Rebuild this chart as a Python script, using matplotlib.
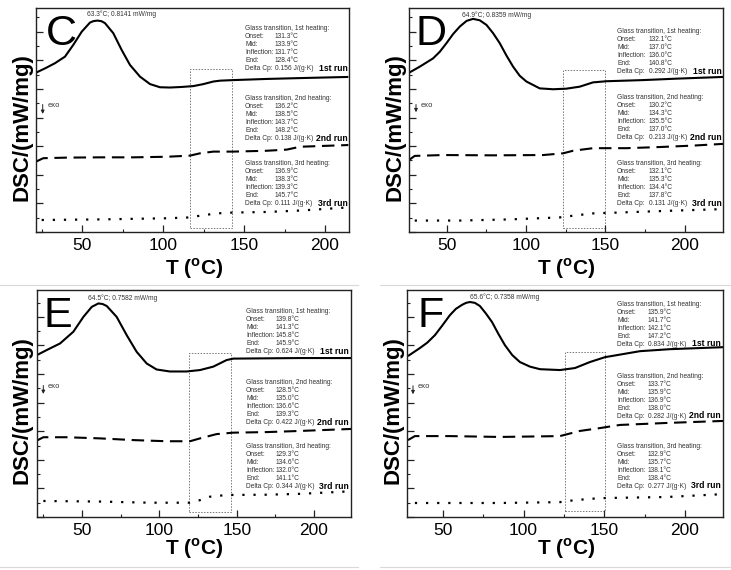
import matplotlib
matplotlib.use('Agg')
import matplotlib.pyplot as plt
from matplotlib.ticker import MultipleLocator
from matplotlib.patches import Rectangle, FancyArrowPatch
from matplotlib.lines import Line2D

plt.rcParams['font.family'] = ['Liberation Sans', 'DejaVu Sans']
plt.rcParams['mathtext.fontset'] = 'custom'
plt.rcParams['mathtext.rm'] = 'Liberation Sans'
plt.rcParams['mathtext.bf'] = 'Liberation Sans:bold'

W, H = 731, 570

# ---------------- data ----------------
panel_letters = ['C', 'D', 'E', 'F']

# Panel C
C_t1 = [21.6, 27.2, 33.3, 39.5, 44.6, 49.8, 54.9, 57.0, 59.5, 62.0, 64.2, 69.3, 74.5, 79.6, 85.8,
        92.0, 98.1, 104.3, 111.5, 118.7, 124.9, 131.1, 135.2, 143.4, 164.0, 184.6, 214.4]
C_y1 = [0.557, 0.572, 0.590, 0.613, 0.654, 0.700, 0.732, 0.737, 0.739, 0.737, 0.730, 0.695, 0.636,
        0.584, 0.543, 0.517, 0.506, 0.505, 0.507, 0.510, 0.517, 0.526, 0.529, 0.531, 0.535, 0.538, 0.542]
C_t2 = [21.6, 26.1, 40.6, 61.1, 81.7, 102.3, 116.7, 122.8, 131.1, 143.4, 164.0, 176.4, 184.6, 214.4]
C_y2 = [0.246, 0.258, 0.260, 0.261, 0.261, 0.263, 0.267, 0.275, 0.281, 0.281, 0.284, 0.288, 0.298, 0.304]
C_t3 = [25.1, 61.1, 102.3, 116.7, 122.8, 133.1, 143.4, 164.0, 184.6, 214.4]
C_y3 = [0.042, 0.044, 0.048, 0.051, 0.057, 0.065, 0.068, 0.070, 0.075, 0.086]

# Panel D
D_t1 = [26.3, 33.0, 41.4, 45.6, 49.8, 54.0, 58.2, 62.5, 66.6, 70.8, 75.0, 79.2, 83.4, 87.6, 91.8,
        96.0, 100.2, 108.6, 117.0, 125.4, 133.8, 142.2, 150.6, 173.7, 194.7, 224.1]
D_y1 = [0.557, 0.578, 0.607, 0.630, 0.660, 0.692, 0.718, 0.738, 0.745, 0.740, 0.724, 0.695, 0.660,
        0.617, 0.578, 0.546, 0.526, 0.502, 0.499, 0.501, 0.508, 0.523, 0.527, 0.531, 0.536, 0.542]
D_t2 = [26.3, 29.8, 47.7, 79.2, 110.7, 123.3, 129.6, 142.2, 163.2, 184.2, 205.2, 224.1]
D_y2 = [0.252, 0.266, 0.269, 0.268, 0.269, 0.275, 0.284, 0.293, 0.293, 0.297, 0.302, 0.308]
D_t3 = [29.8, 58.2, 89.7, 121.2, 129.6, 142.2, 163.2, 194.7, 224.1]
D_y3 = [0.040, 0.040, 0.044, 0.051, 0.057, 0.065, 0.069, 0.075, 0.080]

# Panel E
E_t1 = [20.7, 27.2, 35.8, 44.4, 50.9, 56.3, 60.6, 63.3, 66.0, 72.4, 78.9, 85.3, 91.8, 98.2, 106.8,
        117.6, 126.3, 134.9, 143.5, 147.8, 169.4, 191.0, 224.0]
E_y1 = [0.566, 0.584, 0.607, 0.648, 0.700, 0.735, 0.747, 0.745, 0.738, 0.700, 0.636, 0.578, 0.537,
        0.516, 0.509, 0.509, 0.514, 0.526, 0.549, 0.554, 0.555, 0.556, 0.556]
E_t2 = [20.7, 25.0, 40.1, 61.6, 83.2, 104.7, 119.8, 126.3, 137.0, 147.8, 169.4, 191.0, 224.0]
E_y2 = [0.267, 0.279, 0.279, 0.275, 0.269, 0.265, 0.265, 0.275, 0.290, 0.295, 0.297, 0.301, 0.308]
E_t3 = [25.0, 61.6, 93.9, 119.8, 126.3, 132.7, 143.5, 169.4, 191.0, 224.0]
E_y3 = [0.056, 0.054, 0.050, 0.050, 0.059, 0.071, 0.077, 0.078, 0.081, 0.090]

# Panel F
F_t1 = [28.3, 35.7, 40.3, 45.0, 49.6, 54.3, 58.0, 61.8, 64.3, 66.7, 69.8, 72.9, 76.6, 80.4, 84.4,
        88.4, 93.0, 97.7, 103.9, 110.1, 122.5, 131.8, 141.1, 150.4, 172.1, 190.7, 223.6]
F_y1 = [0.563, 0.591, 0.610, 0.636, 0.670, 0.706, 0.728, 0.742, 0.749, 0.752, 0.749, 0.738, 0.712,
        0.682, 0.640, 0.601, 0.566, 0.542, 0.526, 0.517, 0.514, 0.521, 0.542, 0.559, 0.580, 0.587, 0.594]
F_t2 = [28.3, 32.6, 54.3, 85.3, 122.5, 134.9, 147.3, 159.7, 188.9, 223.6]
F_y2 = [0.269, 0.283, 0.283, 0.280, 0.283, 0.301, 0.311, 0.322, 0.329, 0.336]
F_t3 = [32.6, 85.3, 122.5, 131.8, 147.3, 188.9, 223.6]
F_y3 = [0.049, 0.049, 0.052, 0.059, 0.066, 0.070, 0.080]

runs_T = {'C': [C_t1, C_t2, C_t3], 'D': [D_t1, D_t2, D_t3],
          'E': [E_t1, E_t2, E_t3], 'F': [F_t1, F_t2, F_t3]}
runs_Y = {'C': [C_y1, C_y2, C_y3], 'D': [D_y1, D_y2, D_y3],
          'E': [E_y1, E_y2, E_y3], 'F': [F_y1, F_y2, F_y3]}

# dashed boxes (T range, DSC range)
box_T = {'C': (116.7, 142.4), 'D': (123.3, 149.6), 'E': (119.3, 146.2), 'F': (125.6, 150.4)}
box_Y = {'C': (0.015, 0.569), 'D': (0.015, 0.566), 'E': (0.019, 0.574), 'F': (0.021, 0.577)}

peak_labels = {'C': '63.3\u00b0C; 0.8141 mW/mg', 'D': '64.9\u00b0C; 0.8359 mW/mg',
               'E': '64.5\u00b0C; 0.7582 mW/mg', 'F': '65.6\u00b0C; 0.7358 mW/mg'}

# onset, mid, inflection, end, delta Cp for 1st/2nd/3rd heating
gt_values = {
    'C': [['131.3', '133.9', '131.7', '128.4', '0.156'],
          ['136.2', '138.5', '143.7', '148.2', '0.138'],
          ['136.9', '138.3', '139.3', '145.7', '0.111']],
    'D': [['132.1', '137.0', '136.0', '140.8', '0.292'],
          ['130.2', '134.3', '135.5', '137.0', '0.213'],
          ['132.1', '135.3', '134.4', '137.8', '0.131']],
    'E': [['139.8', '141.3', '145.8', '145.9', '0.624'],
          ['128.5', '135.0', '136.6', '139.3', '0.422'],
          ['129.3', '134.6', '132.0', '141.1', '0.344']],
    'F': [['135.9', '141.7', '142.1', '147.2', '0.834'],
          ['133.7', '135.9', '136.9', '138.0', '0.282'],
          ['132.9', '135.7', '138.1', '138.4', '0.277']],
}
gt_names = ['Onset:', 'Mid:', 'Inflection:', 'End:', 'Delta Cp:']
heat_names = ['1st', '2nd', '3rd']
run_names = ['1st run', '2nd run', '3rd run']
x_ticks = [50, 100, 150, 200]

# ---------------- layout (pixels) ----------------
axbox = {'C': (36, 8, 349, 232), 'D': (409, 8, 723, 232),
         'E': (37, 290, 351, 517), 'F': (407, 290, 723, 517)}
xlims = {'C': (21.6, 214.8), 'D': (26.2, 224.1), 'E': (20.9, 223.9), 'F': (27.7, 223.6)}
ylims = {'C': (0, 0.783), 'D': (0, 0.783), 'E': (0, 0.794), 'F': (0, 0.794)}
text_cols = {'C': (245, 275, 348), 'D': (617, 649, 722), 'E': (246, 276, 349), 'F': (617, 648, 721)}
block_y0 = {'C': (28.5, 98.5, 163.5), 'D': (31.3, 97.7, 163.3),
            'E': (311.7, 382.7, 446.7), 'F': (304, 376, 446)}
peak_pos = {'C': (87, 14), 'D': (462, 15), 'E': (88, 298), 'F': (470, 297)}
letter_pos = {'C': (61.5, 45), 'D': (431, 45), 'E': (57.5, 327), 'F': (431, 327)}
exo_pos = {'C': (42.7, 101.7, 116.7), 'D': (416, 101.7, 115), 'E': (43.3, 382.7, 396.7),
           'F': (413, 383, 397)}
ylab_pos = {'C': (22, 127), 'D': (395, 127), 'E': (22, 410), 'F': (393, 410)}
xlab_pos = {'C': (194, 269), 'D': (566, 269), 'E': (194, 549), 'F': (566, 549)}

fig = plt.figure(figsize=(W / 100, H / 100), dpi=100)


def fx(px):
    return px / W


def fy(py):
    return 1 - py / H


def ftext(px, py, s, **kw):
    fig.text(fx(px), fy(py), s, **kw)


tc = '#333333'
styles = [dict(ls='-', lw=1.5), dict(ls=(0, (6, 3.2)), lw=1.5), dict(ls=(0, (1, 4)), lw=1.6)]

for p in panel_letters:
    l, t, r, b = axbox[p]
    ax = fig.add_axes([fx(l), fy(b), (r - l) / W, (b - t) / H])
    for T, Y, st in zip(runs_T[p], runs_Y[p], styles):
        ax.plot(T, Y, color='black', solid_capstyle='butt', dash_capstyle='butt',
                solid_joinstyle='round', **st)
    x0, x1 = box_T[p]
    y0, y1 = box_Y[p]
    ax.add_patch(Rectangle((x0, y0), x1 - x0, y1 - y0, fill=False, ec='#777777',
                           lw=0.7, ls=(0, (1.5, 1.5))))
    ax.set_xlim(*xlims[p])
    ax.set_ylim(*ylims[p])
    ax.set_xticks(x_ticks)
    ax.xaxis.set_minor_locator(MultipleLocator(25))
    ax.yaxis.set_major_locator(MultipleLocator(0.1))
    ax.yaxis.set_minor_locator(MultipleLocator(0.05))
    ax.tick_params(which='both', direction='in', top=False, right=False, labelleft=False,
                   color='#222222')
    ax.tick_params(which='major', length=5, width=0.9, labelsize=12.5, pad=4)
    ax.tick_params(which='minor', length=2.5, width=0.8)
    for s in ax.spines.values():
        s.set_linewidth(1.0)
        s.set_color('#222222')

    # panel letter
    lx, ly = letter_pos[p]
    ftext(lx, ly, p, fontsize=31, ha='center', va='baseline', color='black')
    # peak label
    px_, py_ = peak_pos[p]
    ftext(px_, py_, peak_labels[p], fontsize=4.8, ha='left', va='center', color=tc)
    # exo arrow
    ex, ey0, ey1 = exo_pos[p]
    fig.add_artist(FancyArrowPatch(
        (fx(ex), fy(ey0)), (fx(ex), fy(ey1)), transform=fig.transFigure,
        arrowstyle='-|>', mutation_scale=5, lw=0.7, color='#222222'))
    ftext(ex + 4.5, ey0 + 3.5, 'exo', fontsize=5.5, ha='left', va='center', color=tc)

    # glass transition blocks
    cl, cv, cr = text_cols[p]
    for k in range(3):
        yb = block_y0[p][k]
        ftext(cl, yb, 'Glass transition, %s heating:' % heat_names[k], fontsize=4.8,
              ha='left', va='center', color=tc)
        vals = gt_values[p][k]
        for i in range(5):
            yy = yb + 8.0 * (i + 1)
            ftext(cl, yy, gt_names[i], fontsize=4.8, ha='left', va='center', color=tc)
            if i < 4:
                s = vals[i] + '\u00b0C'
            else:
                s = vals[i] + ' J/(g\u00b7K)'
            ftext(cv, yy, s, fontsize=4.8, ha='left', va='center', color=tc)
        ftext(cr, yb + 40.0, run_names[k], fontsize=6.2, fontweight='bold',
              ha='right', va='center', color='black')

    # axis labels
    yx, yy_ = ylab_pos[p]
    ftext(yx, yy_, 'DSC/(mW/mg)', fontsize=16, fontweight='bold', rotation=90,
          ha='center', va='center')
    xx, xy = xlab_pos[p]
    ftext(xx, xy, r'T ($^{\mathbf{o}}$C)', fontsize=15, fontweight='bold',
          ha='center', va='center')

# light separator lines between panels
for (xa, xb, yl) in [(0, 358, 285), (380, 731, 285), (0, 358, 567), (380, 731, 567)]:
    fig.add_artist(Line2D([fx(xa), fx(xb)], [fy(yl), fy(yl)], transform=fig.transFigure,
                          color='#d9d9d9', lw=0.8))

fig.savefig('out.png', dpi=100, facecolor='white')
